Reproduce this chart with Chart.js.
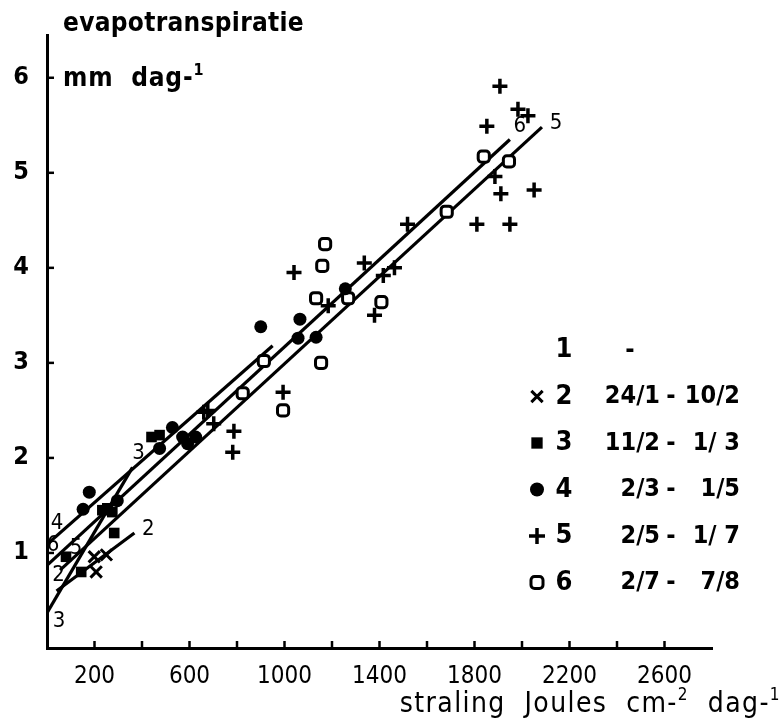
<!DOCTYPE html>
<html>
<head>
<meta charset="utf-8">
<script src="https://cdn.jsdelivr.net/npm/chart.js@4"></script>
<style>
  html, body { margin: 0; background: #fff; }
</style>
</head>
<body>
<canvas id="c" width="783" height="724"></canvas>
<script>
// axis ticks
const xTicks = [200, 400, 600, 800, 1000, 1200, 1400, 1600, 1800, 2000, 2200, 2400, 2600];
const xLabels = [200, 600, 1000, 1400, 1800, 2200, 2600];
const yTicks = [1, 2, 3, 4, 5, 6];

// periods (legend)
const periodNums = ['1', '2', '3', '4', '5', '6'];
const periodFrom = ['', '24/1', '11/2', '2/3', '2/5', '2/7'];
const periodTo = ['', '10/2', '1/ 3', '1/5', '1/ 7', '7/8'];

// measured points [straling, evapotranspiratie]
const pts2 = [[250, 0.98], [207, 0.80], [199, 0.96]];
const pts3 = [[283, 1.21], [80, 0.96], [144, 0.80], [275, 1.43], [233, 1.45], [254, 1.47], [440, 2.22], [474, 2.24]];
const pts4 = [[178, 1.64], [152, 1.46], [296, 1.55], [528, 2.32], [592, 2.15], [626, 2.22], [571, 2.22], [474, 2.10],
              [900, 3.38], [1065, 3.46], [1057, 3.26], [1133, 3.27], [1256, 3.78]];
const pts5 = [[1907, 5.91], [1852, 5.49], [1983, 5.67], [2025, 5.60], [1886, 4.96], [1911, 4.78], [2051, 4.82],
              [1810, 4.46], [1949, 4.46], [1518, 4.46], [1040, 3.95], [1336, 4.05], [1463, 4.00], [1416, 3.92],
              [1379, 3.50], [994, 2.69], [1184, 3.60], [787, 2.28], [782, 2.06], [702, 2.36], [677, 2.50], [660, 2.48]];
const pts6 = [[1839, 5.17], [1945, 5.12], [1683, 4.59], [1171, 4.25], [1159, 4.02], [1133, 3.68], [1408, 3.64],
              [1154, 3.00], [994, 2.50], [913, 3.02], [824, 2.68], [1268, 3.68]];

// regression lines (start, end)
const line2 = [[40, 0.60], [368, 1.21]];
const line3 = [[0, 0.37], [360, 1.90]];
const line4 = [[0, 1.09], [950, 3.18]];
const line5 = [[55, 0.82], [2084, 5.48]];
const line6 = [[0, 0.87], [1949, 5.35]];

const FAM = "'DejaVu Sans Condensed', 'DejaVu Sans', sans-serif";
const xy = a => a.map(p => ({ x: p[0], y: p[1] }));

function lineSet(pts) {
  return { type: 'line', data: xy(pts), borderColor: '#000', borderWidth: 3.2, pointRadius: 0, order: 2, tension: 0 };
}
function ptSet(pts, style, r, fill, bw) {
  return { type: 'scatter', data: xy(pts), pointStyle: style, pointRadius: r, backgroundColor: fill,
           borderColor: '#000', pointBorderWidth: bw, borderWidth: bw, order: 1 };
}

// text with raised pieces: parts = [[text, isSup]]
function drawParts(ctx, parts, x, y, size, weight, align, spacing) {
  const supSize = Math.round(size * 0.62);
  ctx.letterSpacing = (spacing || 0) + 'px';
  let w = 0;
  parts.forEach(([t, s]) => { ctx.font = weight + ' ' + (s ? supSize : size) + 'px ' + FAM; w += ctx.measureText(t).width; });
  let cx = align === 'right' ? x - w : x;
  ctx.textAlign = 'left';
  ctx.textBaseline = 'alphabetic';
  parts.forEach(([t, s]) => {
    ctx.font = weight + ' ' + (s ? supSize : size) + 'px ' + FAM;
    ctx.fillText(t, cx, s ? y - size * 0.42 : y);
    cx += ctx.measureText(t).width;
  });
  ctx.letterSpacing = '0px';
}

const decor = {
  id: 'decor',
  afterDraw(chart) {
    const { ctx, chartArea: a } = chart;
    const sx = chart.scales.x, sy = chart.scales.y;
    ctx.save();
    ctx.fillStyle = '#000';
    ctx.strokeStyle = '#000';

    // tick marks inside the axes
    ctx.lineWidth = 2.5;
    xTicks.forEach(v => {
      const px = sx.getPixelForValue(v);
      ctx.beginPath(); ctx.moveTo(px, a.bottom); ctx.lineTo(px, a.bottom - 7); ctx.stroke();
    });
    yTicks.forEach(v => {
      const py = sy.getPixelForValue(v);
      ctx.beginPath(); ctx.moveTo(a.left, py); ctx.lineTo(a.left + 7, py); ctx.stroke();
    });

    // axis titles
    drawParts(ctx, [['evapotranspiratie', false]], 63, 31, 26, 'bold', 'left', 0.3);
    drawParts(ctx, [['mm  dag-', false], ['1', true]], 63, 86, 26, 'bold', 'left', 0.8);
    drawParts(ctx, [['straling  Joules  cm-', false], ['2', true], ['  dag-', false], ['1', true]], 781, 712, 28, 'normal', 'right', 1.4);

    // line labels
    ctx.font = 'normal 22px ' + FAM;
    ctx.textAlign = 'center';
    ctx.textBaseline = 'middle';
    const lab = (t, p, dx, dy) => ctx.fillText(t, sx.getPixelForValue(p[0]) + dx, sy.getPixelForValue(p[1]) + dy);
    lab('4', line4[0], 10, -21);
    lab('6', line6[0], 6, -20);
    lab('5', line5[0], 16, -22);
    lab('2', line2[0], 2, -16);
    lab('3', line3[0], 12, 8);
    lab('2', line2[1], 14, -4);
    lab('3', line3[1], 6, -14);
    lab('6', line6[1], 10, -13);
    lab('5', line5[1], 14, -4);

    // legend
    const styles = [null, ['crossRot', 8, 3], ['rect', 8, 0], ['circle', 7, 0], ['cross', 8, 3.5], ['rectRounded', 7, 3]];
    const fills = [null, '#000', '#000', '#000', '#000', '#fff'];
    periodNums.forEach((n, i) => {
      const ry = 350 + i * 46.5;
      if (styles[i]) {
        ctx.fillStyle = fills[i];
        ctx.lineWidth = styles[i][2] || 1;
        Chart.helpers.drawPoint(ctx, { pointStyle: styles[i][0], radius: styles[i][1], rotation: 0, borderWidth: styles[i][2] }, 537, ry);
        ctx.fillStyle = '#000';
      }
      ctx.font = 'bold 27px ' + FAM;
      ctx.textBaseline = 'middle';
      ctx.textAlign = 'center';
      ctx.fillText(n, 564, ry);
      ctx.font = 'bold 25px ' + FAM;
      if (periodFrom[i]) {
        ctx.textAlign = 'right';
        ctx.fillText(periodFrom[i], 660, ry);
        ctx.textAlign = 'center';
        ctx.fillText('-', 671, ry);
        ctx.textAlign = 'right';
        ctx.fillText(periodTo[i], 740, ry);
      } else {
        ctx.fillText('-', 630, ry);
      }
    });
    ctx.restore();
  }
};

new Chart(document.getElementById('c'), {
  data: {
    datasets: [
      lineSet(line2), lineSet(line3), lineSet(line4), lineSet(line5), lineSet(line6),
      ptSet(pts2, 'crossRot', 8, '#000', 3),
      ptSet(pts3, 'rect', 7.5, '#000', 0),
      ptSet(pts4, 'circle', 6.5, '#000', 0),
      ptSet(pts5, 'cross', 7.5, '#000', 3.5),
      ptSet(pts6, 'rectRounded', 6.5, '#fff', 3)
    ]
  },
  options: {
    responsive: false,
    animation: false,
    layout: { padding: { top: 35, right: 71, left: 0, bottom: 0 } },
    plugins: { legend: { display: false }, tooltip: { enabled: false } },
    scales: {
      x: {
        type: 'linear', min: 0, max: 2800,
        afterBuildTicks: s => { s.ticks = xTicks.map(v => ({ value: v })); },
        afterFit: s => { s.height = 76; },
        border: { color: '#000', width: 3 },
        grid: { drawOnChartArea: false, drawTicks: false },
        ticks: {
          autoSkip: false, maxRotation: 0, padding: 14, color: '#000',
          font: { family: FAM, size: 24 },
          callback: v => xLabels.includes(v) ? String(v) : ''
        }
      },
      y: {
        type: 'linear', min: 0, max: 6.45,
        afterBuildTicks: s => { s.ticks = yTicks.map(v => ({ value: v })); },
        afterFit: s => { s.width = 47; },
        border: { color: '#000', width: 3 },
        grid: { drawOnChartArea: false, drawTicks: false },
        ticks: { padding: 18, color: '#000', font: { family: FAM, size: 25, weight: 'bold' } }
      }
    }
  },
  plugins: [decor]
});
</script>
</body>
</html>
